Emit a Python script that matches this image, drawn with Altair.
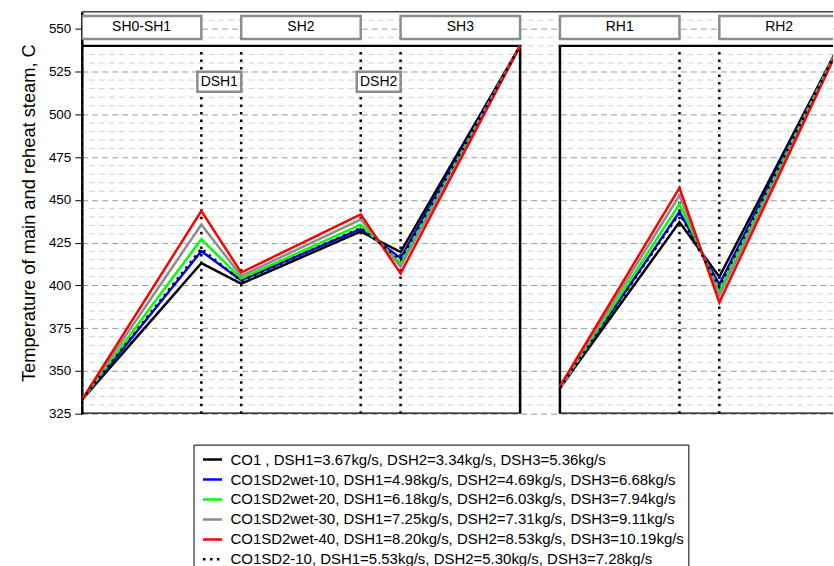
import altair as alt
import pandas as pd

# ---------------- data ----------------
series_names = [
    "CO1 , DSH1=3.67kg/s, DSH2=3.34kg/s, DSH3=5.36kg/s",
    "CO1SD2wet-10, DSH1=4.98kg/s, DSH2=4.69kg/s, DSH3=6.68kg/s",
    "CO1SD2wet-20, DSH1=6.18kg/s, DSH2=6.03kg/s, DSH3=7.94kg/s",
    "CO1SD2wet-30, DSH1=7.25kg/s, DSH2=7.31kg/s, DSH3=9.11kg/s",
    "CO1SD2wet-40, DSH1=8.20kg/s, DSH2=8.53kg/s, DSH3=10.19kg/s",
    "CO1SD2-10, DSH1=5.53kg/s, DSH2=5.30kg/s, DSH3=7.28kg/s",
]
series_colors = ["#000000", "#0000ff", "#00ff00", "#8c8c8c", "#ff0000", "#000000"]
series_dashes = [[1, 0], [1, 0], [1, 0], [1, 0], [1, 0], [2.5, 4.5]]

# stations along the steam path (superheater and reheater)
sh_stations = [0, 3, 4, 7, 8, 11]
rh_stations = [12, 15, 16, 19]

sh_co1 = [333, 413, 401, 431.5, 419.5, 540]
sh_wet10 = [333, 420, 403, 433, 416, 540]
sh_wet20 = [333, 427, 404, 435.5, 413, 540]
sh_wet30 = [333, 435.5, 405.5, 438.5, 411, 540]
sh_wet40 = [333, 443.5, 407.5, 441.5, 407, 540]
sh_sd10 = [333, 421.5, 402.5, 433.5, 415, 540]

rh_co1 = [340, 437, 405, 540]
rh_wet10 = [340, 443, 400.5, 540]
rh_wet20 = [340, 447.5, 397, 540]
rh_wet30 = [340.5, 452.5, 394, 539.5]
rh_wet40 = [341, 457, 390, 539]
rh_sd10 = [340, 442, 399, 540]

sh_values = [sh_co1, sh_wet10, sh_wet20, sh_wet30, sh_wet40, sh_sd10]
rh_values = [rh_co1, rh_wet10, rh_wet20, rh_wet30, rh_wet40, rh_sd10]

section_labels = ["SH0-SH1", "SH2", "SH3", "RH1", "RH2"]
section_start = [0, 4, 8, 12, 16]
section_end = [3, 7, 11, 15, 19]

dsh_labels = ["DSH1", "DSH2"]
dsh_start = [2.9, 6.9]
dsh_end = [4, 8]
dsh_lines = [3, 4, 7, 8, 15, 16]

panel_start = [0, 12]
panel_end = [11, 19]

major_ticks = list(range(325, 551, 25))
minor_ticks = [v for v in range(330, 560, 5) if v % 25 != 0]

# ---------------- tables ----------------
rows = []
for name, shv, rhv in zip(series_names, sh_values, rh_values):
    for p, v in zip(sh_stations, shv):
        rows.append({"series": name, "section": "SH", "pos": p, "temp": v})
    for p, v in zip(rh_stations, rhv):
        rows.append({"series": name, "section": "RH", "pos": p, "temp": v})
lines_df = pd.DataFrame(rows)

sections_df = pd.DataFrame({"label": section_labels, "x0": section_start, "x1": section_end})
sections_df["mid"] = (sections_df["x0"] + sections_df["x1"]) / 2
sections_df["y0"] = 544.0
sections_df["y1"] = 557.5
sections_df["ym"] = 550.8

dsh_df = pd.DataFrame({"label": dsh_labels, "x0": dsh_start, "x1": dsh_end})
dsh_df["mid"] = (dsh_df["x0"] + dsh_df["x1"]) / 2
dsh_df["y0"] = 513.2
dsh_df["y1"] = 524.9
dsh_df["ym"] = 519.0

vlines_df = pd.DataFrame({"x": dsh_lines})
vlines_df["y0"] = 325
vlines_df["y1"] = 540

panels_df = pd.DataFrame({"x0": panel_start, "x1": panel_end})
panels_df["y0"] = 325
panels_df["y1"] = 540

minor_df = pd.DataFrame({"v": minor_ticks})
top_df = pd.DataFrame({"v": [560]})

FONT = "Liberation Sans"
xsc = alt.Scale(domain=[0, 18.853], nice=False, zero=False)
ysc = alt.Scale(domain=[325, 560], nice=False, zero=False)

yaxis = alt.Axis(
    values=major_ticks,
    title="Temperature of main and reheat steam, C",
    titleFont=FONT, titleFontSize=18.3, titleFontWeight="normal", titleColor="black",
    titlePadding=10,
    labelFont=FONT, labelFontSize=13.5, labelColor="black", labelPadding=4,
    domainColor="black", domainWidth=2.5,
    tickColor="black", tickSize=7,
    grid=True, gridColor="#9a9a9a", gridDash=[6, 4], gridWidth=1,
)

leg = dict(title=None, orient="none", legendX=112, legendY=434, direction="vertical",
           symbolType="stroke", symbolSize=361, symbolStrokeWidth=2.5, symbolOffset=4,
           labelFont=FONT, labelFontSize=15, labelColor="black", labelLimit=700, labelOffset=7,
           strokeColor="black", fillColor="white", padding=4, rowPadding=1)

minor_grid = alt.Chart(minor_df).mark_rule(color="#d2d2d2", strokeWidth=1, strokeDash=[6, 4]).encode(
    y=alt.Y("v:Q", scale=ysc, axis=yaxis)
)

top_rule = alt.Chart(top_df).mark_rule(color="#444444", strokeWidth=1.5).encode(
    y=alt.Y("v:Q", scale=ysc)
)

frames = alt.Chart(panels_df).mark_rect(filled=False, stroke="black", strokeWidth=2.5, clip=True).encode(
    x=alt.X("x0:Q", scale=xsc, axis=None), x2="x1:Q",
    y=alt.Y("y0:Q", scale=ysc), y2="y1:Q",
)

vlines = alt.Chart(vlines_df).mark_rule(color="black", strokeWidth=2.5, strokeDash=[2.5, 5]).encode(
    x=alt.X("x:Q", scale=xsc, axis=None),
    y=alt.Y("y0:Q", scale=ysc), y2="y1:Q",
)

series_lines = alt.Chart(lines_df).mark_line(strokeWidth=2.5, clip=True).encode(
    x=alt.X("pos:Q", scale=xsc, axis=None),
    y=alt.Y("temp:Q", scale=ysc),
    color=alt.Color("series:N", scale=alt.Scale(domain=series_names, range=series_colors),
                    legend=alt.Legend(**leg)),
    strokeDash=alt.StrokeDash("series:N", scale=alt.Scale(domain=series_names, range=series_dashes),
                              legend=alt.Legend(**leg)),
    detail="section:N",
    order="pos:Q",
)

sec_boxes = alt.Chart(sections_df).mark_rect(fill="white", stroke="#8c8c8c", strokeWidth=2.5, clip=True).encode(
    x=alt.X("x0:Q", scale=xsc, axis=None), x2="x1:Q",
    y=alt.Y("y0:Q", scale=ysc), y2="y1:Q",
)
sec_text = alt.Chart(sections_df).mark_text(font=FONT, fontSize=14, color="black", clip=True).encode(
    x=alt.X("mid:Q", scale=xsc, axis=None),
    y=alt.Y("ym:Q", scale=ysc),
    text="label:N",
)

dsh_boxes = alt.Chart(dsh_df).mark_rect(fill="white", stroke="#8c8c8c", strokeWidth=2.5).encode(
    x=alt.X("x0:Q", scale=xsc, axis=None), x2="x1:Q",
    y=alt.Y("y0:Q", scale=ysc), y2="y1:Q",
)
dsh_text = alt.Chart(dsh_df).mark_text(font=FONT, fontSize=14, color="black").encode(
    x=alt.X("mid:Q", scale=xsc, axis=None),
    y=alt.Y("ym:Q", scale=ysc),
    text="label:N",
)

chart = alt.layer(
    minor_grid, top_rule, frames, vlines, series_lines, sec_boxes, sec_text, dsh_boxes, dsh_text
).properties(
    width=753, height=403,
    padding={"left": 19, "top": 10, "right": 0, "bottom": 0},
    background="white",
).configure_view(strokeWidth=0)

chart.save("out.html", embed_options={"renderer": "svg", "actions": False})
